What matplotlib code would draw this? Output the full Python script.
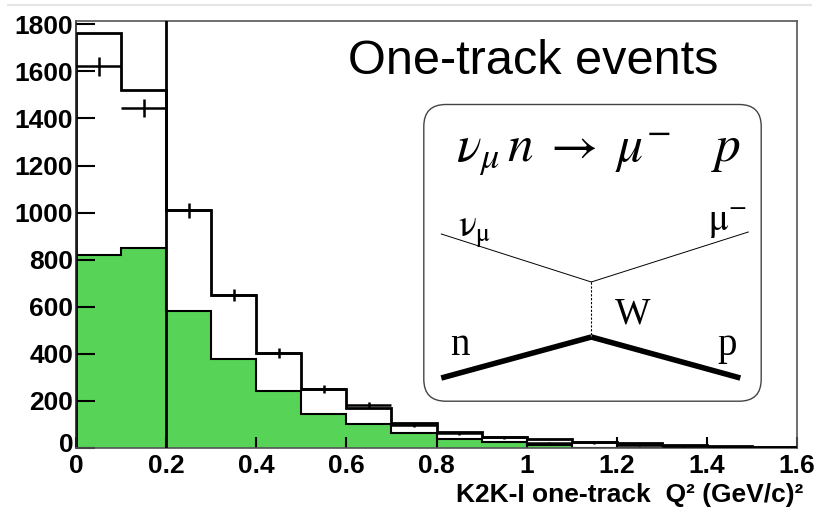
import numpy as np
import matplotlib.pyplot as plt
from matplotlib.patches import FancyBboxPatch
from matplotlib.lines import Line2D
from matplotlib.transforms import ScaledTranslation

# Q^2 binning, 0.1 (GeV/c)^2 per bin
edges = np.round(np.arange(0, 1.61, 0.1), 2)
mc_total = [1765, 1520, 1012, 650, 402, 252, 172, 108, 70, 45, 38, 25, 20, 14, 9, 5]
mc_qe = [818, 850, 583, 380, 243, 144, 100, 64, 40, 24, 13, 0, 0, 0, 0, 0]
data_counts = [1622, 1445, 1010, 648, 404, 250, 183, 97, 62, 45, 22, 24, 14, 9, 5, 3]
q2_cut = 0.2

xticks = [0, 0.2, 0.4, 0.6, 0.8, 1.0, 1.2, 1.4, 1.6]
xtick_labels = ['0', '0.2', '0.4', '0.6', '0.8', '1', '1.2', '1.4', '1.6']
yticks = [0, 200, 400, 600, 800, 1000, 1200, 1400, 1600, 1800]

# CCQE diagram, in pixel units inside the rounded box (origin top-left)
box_w, box_h = 338.4, 297.7
nu_leg = ([18, 168], [130, 178])
mu_leg = ([168, 325], [178, 128])
w_prop = ([168, 168], [178, 233])
n_leg = ([18, 168], [274, 233])
p_leg = ([168, 317], [233, 274])

W, H = 815, 514
fig = plt.figure(figsize=(W / 100, H / 100), dpi=100)
ax = fig.add_axes([76 / W, 1 - 448 / H, 721 / W, 427 / H])

centers = 0.5 * (edges[:-1] + edges[1:])
ax.stairs(mc_qe, edges, fill=True, facecolor='#57d457', edgecolor='black',
          linewidth=1.5, zorder=1)
ax.stairs(mc_total, edges, color='black', linewidth=2, zorder=2)
ax.errorbar(centers, data_counts, xerr=0.05, yerr=np.sqrt(data_counts),
            fmt='none', ecolor='black', elinewidth=1.8, capsize=0, zorder=3)
ax.axvline(q2_cut, color='black', linewidth=2, zorder=4)

ax.set_xlim(0, 1.6)
ax.set_ylim(0, 1814)
ax.set_xticks(xticks)
ax.set_xticklabels(xtick_labels)
ax.set_yticks(yticks)
for lab in ax.get_xticklabels() + ax.get_yticklabels():
    lab.set_fontfamily('Liberation Sans')
    lab.set_fontweight('bold')
    lab.set_fontsize(19)
ax.tick_params(axis='y', direction='in', length=13.5, width=1.5, pad=2)
ax.tick_params(axis='x', direction='in', length=8, width=1.5, pad=4.5)
# lift the "0" on the y axis a little so it clears the x-axis "0"
zero_lab = ax.yaxis.get_major_ticks()[0].label1
zero_lab.set_transform(zero_lab.get_transform()
                       + ScaledTranslation(0, 4 / 72, fig.dpi_scale_trans))
for s in ax.spines.values():
    s.set_color('#555555')
    s.set_linewidth(1.2)
ax.spines['left'].set_color('#222222')

ax.set_xlabel('K2K-I one-track  Q² (GeV/c)²', fontfamily='Liberation Sans',
              fontweight='bold', fontsize=19, ha='right', va='baseline')
ax.xaxis.set_label_coords((803 - 76) / 721, (448 - 502) / 427)

fig.text(348 / W, 1 - 74 / H, 'One-track events', fontfamily='Liberation Sans',
         fontsize=35, va='baseline')

# inset with the quasi-elastic diagram
ins = fig.add_axes([423.3 / W, 1 - (104 + box_h) / H, box_w / W, box_h / H])
ins.set_xlim(0, box_w)
ins.set_ylim(box_h, 0)
ins.axis('off')
ins.add_patch(FancyBboxPatch((0.5, 0.5), box_w - 1, box_h - 1,
                             boxstyle='round,pad=0,rounding_size=22',
                             facecolor='white', edgecolor='#444444',
                             linewidth=1.0, clip_on=False))
ins.plot(*nu_leg, color='black', linewidth=0.7)
ins.plot(*mu_leg, color='black', linewidth=0.7)
ins.plot(*w_prop, color='black', linewidth=0.8, linestyle=(0, (2, 1.5)))
ins.plot(*n_leg, color='black', linewidth=4, solid_capstyle='butt')
ins.plot(*p_leg, color='black', linewidth=4, solid_capstyle='butt')

ins.text(33, 58, r'$\nu_{\mu}\,n\;\rightarrow\;\mu^{-}\;\;\;\;p$', fontsize=37,
         math_fontfamily='stix', va='baseline')
ins.text(35, 133, r'$\mathrm{\nu_{\mu}}$', fontsize=27, math_fontfamily='stix',
         va='baseline')
ins.text(285, 127, r'$\mathrm{\mu^{-}}$', fontsize=27, math_fontfamily='stix',
         va='baseline')
ins.text(192, 219, 'W', fontsize=27, fontfamily='Liberation Serif', va='baseline')
ins.text(27, 251, 'n', fontsize=28, fontfamily='Liberation Serif', va='baseline')
ins.text(294, 251, 'p', fontsize=28, fontfamily='Liberation Serif', va='baseline')

fig.add_artist(Line2D([8 / W, 811 / W], [1 - 5 / H] * 2, color='#e6e6e6',
                      linewidth=1.5))

fig.savefig('out.png', dpi=100)
